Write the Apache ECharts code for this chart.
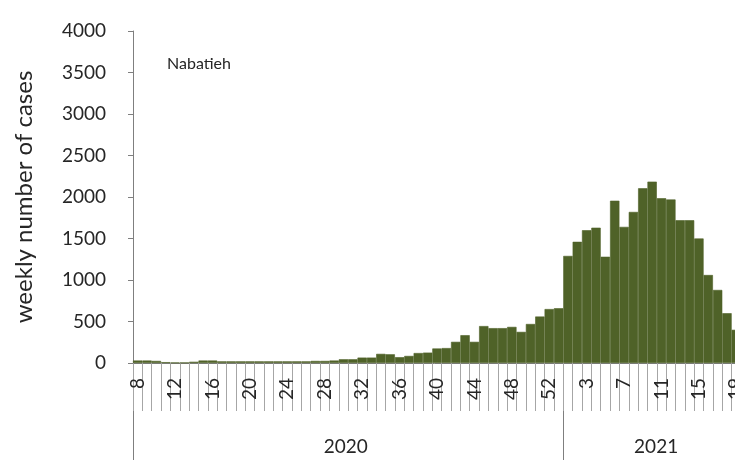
<!DOCTYPE html>
<html>
<head>
<meta charset="utf-8">
<script src="https://cdn.jsdelivr.net/npm/echarts@6/dist/echarts.min.js"></script>
<style>
html,body{margin:0;padding:0;background:#fff;overflow:hidden;}
#chart{width:735px;height:460px;}
</style>
</head>
<body>
<div id="chart"></div>
<script>
// ISO weeks: 2020 week 8 .. 53, 2021 week 1 .. 19
const weeks2020 = [8,9,10,11,12,13,14,15,16,17,18,19,20,21,22,23,24,25,26,27,28,29,30,31,32,33,34,35,36,37,38,39,40,41,42,43,44,45,46,47,48,49,50,51,52,53];
const weeks2021 = [1,2,3,4,5,6,7,8,9,10,11,12,13,14,15,16,17,18,19];
const cases2020 = [30,30,25,10,5,5,15,30,30,20,20,20,20,20,20,20,20,20,20,25,25,30,45,45,65,65,110,105,70,85,120,125,175,180,255,335,255,445,420,420,435,375,470,560,650,660];
const cases2021 = [1290,1460,1600,1630,1280,1955,1640,1820,2105,2185,1985,1970,1720,1720,1500,1060,880,600,400];
const years = ['2020','2021'];
const regionName = 'Nabatieh';
const yAxisTitle = 'weekly number of cases';
const yTicks = [0,500,1000,1500,2000,2500,3000,3500,4000];

const weekLabels = weeks2020.map(String).concat(weeks2021.map(String));
const values = cases2020.concat(cases2021);
const n2020 = weeks2020.length;
// year label row: year text placed in the middle category of its group
const yearRow = weekLabels.map(() => '');
yearRow[Math.floor(n2020 / 2)] = years[0];
yearRow[n2020 + Math.floor(weeks2021.length / 2)] = years[1];

const FONT = 'Lato';
const chart = echarts.init(document.getElementById('chart'), null, {renderer: 'canvas'});
chart.setOption({
  animation: false,
  backgroundColor: '#ffffff',
  title: {
    text: regionName,
    left: 162, top: 51,
    textStyle: {fontFamily: FONT, fontSize: 16, fontWeight: 'normal', color: '#262626'}
  },
  grid: {left: 133, top: 31, bottom: 97, width: 608, containLabel: false, outerBoundsMode: 'none'},
  xAxis: [
    {
      type: 'category',
      data: weekLabels,
      boundaryGap: true,
      axisLine: {show: true, lineStyle: {color: '#7f7f7f', width: 1}},
      axisTick: {show: true, interval: 0, length: 48, lineStyle: {color: '#a6a6a6', width: 1}},
      axisLabel: {
        interval: 3, rotate: 90, margin: 15,
        fontFamily: FONT, fontSize: 19, color: '#262626'
      },
      splitLine: {show: false}
    },
    {
      type: 'category',
      data: yearRow,
      position: 'bottom',
      offset: 48,
      boundaryGap: true,
      axisLine: {show: false},
      axisTick: {
        show: true, length: 50,
        interval: function (i) { return i === 0 || i === n2020; },
        lineStyle: {color: '#7f7f7f', width: 1}
      },
      axisLabel: {
        interval: 0, margin: 26,
        fontFamily: FONT, fontSize: 19, color: '#262626',
        formatter: function (v) {
          if (v === years[0]) return '{a|' + v + '}';
          if (v === years[1]) return '{b|' + v + '}';
          return v;
        },
        rich: {
          a: {fontFamily: FONT, fontSize: 19, color: '#262626', padding: [0, 14, 0, 0]},
          b: {fontFamily: FONT, fontSize: 19, color: '#262626', padding: [0, 0, 0, 8]}
        }
      },
      splitLine: {show: false}
    }
  ],
  yAxis: {
    type: 'value',
    min: yTicks[0], max: yTicks[yTicks.length - 1], interval: yTicks[1] - yTicks[0],
    name: yAxisTitle,
    nameLocation: 'middle',
    nameGap: 97,
    nameTextStyle: {fontFamily: FONT, fontSize: 24, color: '#262626'},
    axisLine: {show: true, lineStyle: {color: '#7f7f7f', width: 1}},
    axisTick: {show: true, inside: false, length: 5, lineStyle: {color: '#7f7f7f'}},
    axisLabel: {
      margin: 27, fontFamily: FONT, fontSize: 19, color: '#262626',
      formatter: function (v) { return String(v); }
    },
    splitLine: {show: false}
  },
  series: [{
    type: 'bar',
    data: values,
    xAxisIndex: 0,
    barCategoryGap: '0%',
    itemStyle: {color: '#4f6228', borderColor: '#4f6228', borderWidth: 0.6}
  }]
});
</script>
</body>
</html>
